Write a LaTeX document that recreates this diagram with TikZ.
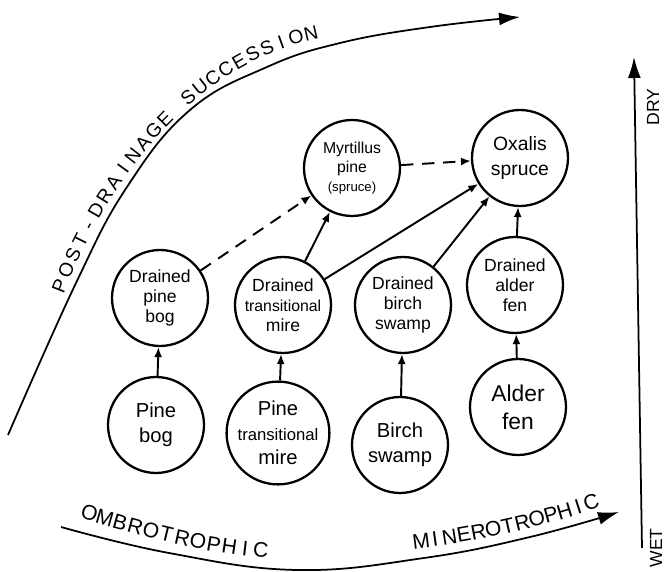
\documentclass[tikz,border=0pt]{standalone}
\usepackage{fontspec}
\setmainfont{Liberation Sans}
\usetikzlibrary{arrows.meta}

\begin{document}
\begin{tikzpicture}[x=0.02cm, y=0.02cm,
    every node/.style={font=\small},
    site/.style={circle, draw, line width=1.3pt, minimum size=1.92cm,
        inner sep=0pt, align=center, font=\fontsize{10}{11.5}\selectfont},
    wetsite/.style={site, font=\fontsize{11.5}{14}\selectfont},
    flow/.style={-{Latex[length=2mm,width=1.6mm]}, line width=1.1pt},
    maybe/.style={flow, dash pattern=on 7pt off 5pt},
    axis/.style={-{Latex[length=4.2mm,width=2.6mm]}, line width=1pt},
    letter/.style={sloped, anchor=base, inner sep=0pt, font=\fontsize{12}{12}\selectfont},
]
\useasboundingbox (0,0) rectangle (664,572);

% Wet sites
\node[wetsite] (pinebog) at (156,147) {Pine\\bog};
\node[wetsite] (pinemire) at (278,139) {Pine\\{\fontsize{9.5}{11}\selectfont transitional}\\mire};
\node[wetsite] (birch) at (400,127) {Birch\\swamp};
\node[wetsite, font=\fontsize{13}{16}\selectfont] (alder) at (518,165) {Alder\\fen};

% Drained sites
\node[site] (dpinebog) at (160,274) {Drained\\pine\\bog};
\node[site] (dmire) at (283,267) {Drained\\{\fontsize{9}{10.5}\selectfont transitional}\\mire};
\node[site] (dbirch) at (403,267) {Drained\\birch\\swamp};
\node[site] (dalder) at (515,287) {Drained\\alder\\fen};

% Forest sites
\node[site, font=\fontsize{9}{11}\selectfont] (myrtillus) at (352,404)
    {Myrtillus\\pine\\{\fontsize{7.5}{9}\selectfont (spruce)}};
\node[site, font=\fontsize{11}{14}\selectfont] (oxalis) at (520,414) {Oxalis\\spruce};

% Drainage
\draw[flow] (pinebog) -- (dpinebog);
\draw[flow] (pinemire) -- (dmire);
\draw[flow] (birch) -- (dbirch);
\draw[flow] (alder) -- (dalder);

% Succession
\draw[maybe] (dpinebog) -- (myrtillus);
\draw[maybe] (myrtillus) -- (oxalis);
\draw[flow] (dmire) -- (myrtillus);
\draw[flow] (dmire) -- (oxalis);
\draw[flow] (dbirch) -- (oxalis);
\draw[flow] (dalder) -- (oxalis);

% Post-drainage succession arrow
\draw[axis] plot[smooth, tension=0.7] coordinates
    {(8,137) (76,289) (127,385) (190,462) (267,505) (340,529) (430,545) (520,555)};
\path (63,276) .. controls (110,400) and (200,510) .. (320,534)
    foreach \l [count=\i, evaluate=\i as \p using (\i-0.5)/24]
    in {P,O,S,T,-,D,R,A,I,N,A,G,E,{},S,U,C,C,E,S,S,I,O,N}
    {node[letter, pos=\p, font=\fontsize{11}{11}\selectfont] {\l}};

% Trophic gradient arrow
\draw[axis] plot[smooth, tension=0.7] coordinates
    {(61,45) (169,19) (297,2) (424,14) (530,35) (619,60)};
\path (80,54) .. controls (140,36) and (205,18) .. (268,14)
    foreach \l [count=\i, evaluate=\i as \p using (\i-0.5)/12]
    in {O,M,B,R,O,T,R,O,P,H,I,C}
    {node[letter, pos=\p] {\l}};
\path (415,23) .. controls (475,30) and (545,45) .. (600,65)
    foreach \l [count=\i, evaluate=\i as \p using (\i-0.5)/13]
    in {M,I,N,E,R,O,T,R,O,P,H,I,C}
    {node[letter, pos=\p] {\l}};

% Moisture arrow
\coordinate (wet) at (642,24);
\coordinate (dry) at (634,515);
\draw[axis] (wet) -- (dry);
\node[rotate=90, font=\fontsize{10}{10}\selectfont] (drylab) at (653,465) {DRY};
\node[rotate=90, font=\fontsize{10}{10}\selectfont] (wetlab) at (656,24) {WET};

\end{tikzpicture}
\end{document}
